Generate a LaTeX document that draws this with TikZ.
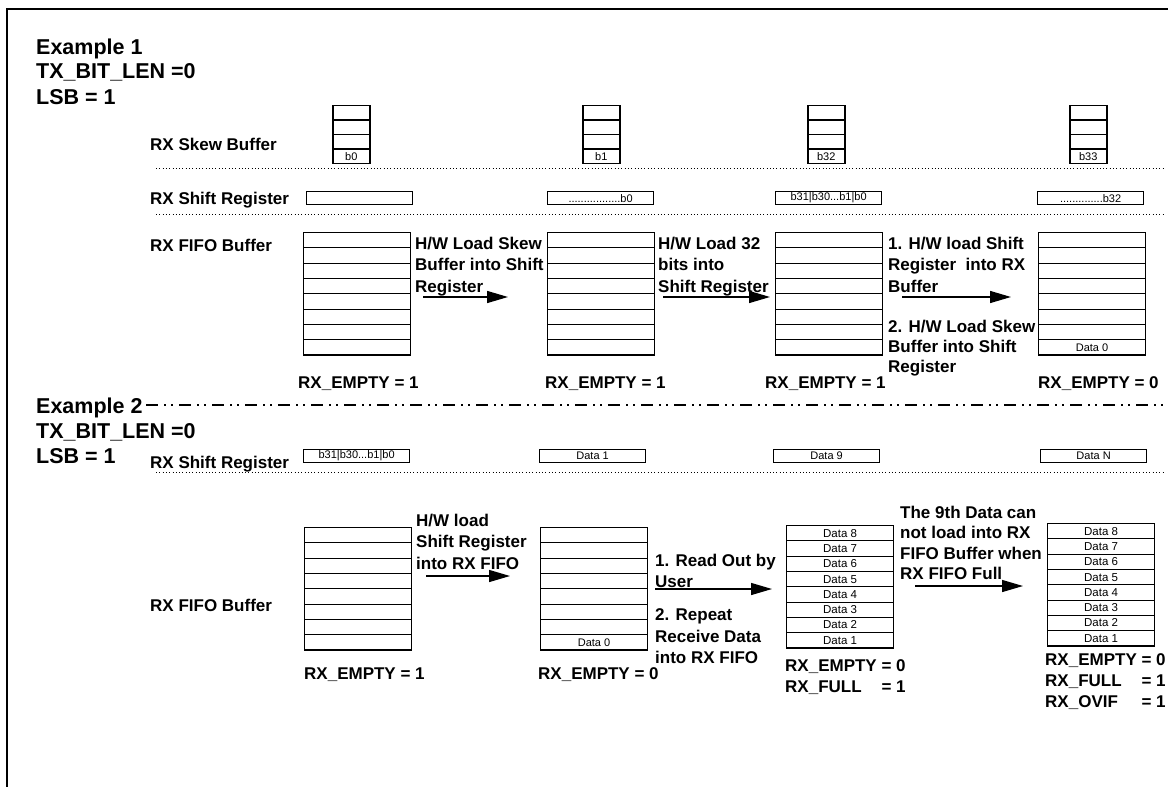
\documentclass[tikz,border=0pt]{standalone}
\usepackage{fontspec}
\setmainfont{Liberation Sans}
\usetikzlibrary{arrows.meta}
\begin{document}
\begin{tikzpicture}[x=1pt,y=-1pt,
  hdr/.style={font=\fontsize{21.5}{25}\selectfont\bfseries, inner sep=0pt, anchor=west, text height=15.4pt, text depth=0pt},
  lbl/.style={font=\fontsize{17}{21}\selectfont\bfseries, inner sep=0pt, anchor=west, text height=12.2pt, text depth=0pt},
  note/.style={font=\fontsize{17}{21.5}\selectfont\bfseries, inner sep=0pt, anchor=north west, align=left},
  stat/.style={font=\fontsize{17}{21}\selectfont\bfseries, inner sep=0pt, anchor=north west},
  cell/.style={draw, line width=1.1pt, minimum width=107pt, minimum height=15.3pt, inner sep=0pt, anchor=north west, font=\fontsize{11.5}{12}\selectfont},
  skew/.style={draw, line width=1.5pt, minimum width=37pt, minimum height=14.6pt, inner sep=0pt, anchor=north west, font=\fontsize{11}{12}\selectfont},
  sreg/.style={draw, line width=1.2pt, minimum width=106pt, minimum height=13pt, inner sep=0pt, anchor=north west, font=\fontsize{11}{12}\selectfont},
  dotline/.style={line width=0.9pt, dash pattern=on 0.9pt off 2.4pt},
  sepline/.style={line width=1.2pt, dash pattern=on 12pt off 6pt on 2pt off 5pt on 2pt off 6pt},
  conn/.style={line width=1.4pt, -{Triangle[length=21pt,width=12pt]}},
]
\useasboundingbox (0,0) rectangle (1168,787);
\fill[white] (0,0) rectangle (1168,787);
\draw[line width=2.2pt] (7,787) -- (7,9) -- (1168,9);

% ---------- Example 1 ----------
\node[hdr] (e1) at (36,47) {Example 1};
\node[hdr] (e1t) at (36,71) {TX\_BIT\_LEN =0};
\node[hdr] (e1l) at (36,97) {LSB = 1};

\node[lbl] (skl) at (150,144) {RX Skew Buffer};
\node[lbl] (sr1l) at (150,198) {RX Shift Register};
\node[lbl] (ff1l) at (150,245) {RX FIFO Buffer};

\foreach \n/\x/\lab in {S1/332/b0, S2/582/b1, S3/807/b32, S4/1069/b33} {
  \foreach \i in {1,2,3} \node[skew] (\n r\i) at (\x,{104.5+(\i-1)*14.6}) {};
  \node[skew] (\n r4) at (\x,148.3) {\lab};
}

\coordinate (d1a) at (156,168); \coordinate (d1b) at (1163,168);
\draw[dotline] (d1a) -- (d1b);

\node[sreg] (R1) at (306,191) {};
\node[sreg] (R2) at (547,191) {.................b0};
\node[sreg] (R3) at (775,191) {b31|b30...b1|b0};
\node[sreg] (R4) at (1037,191) {..............b32};

\coordinate (d2a) at (156,214); \coordinate (d2b) at (1163,214);
\draw[dotline] (d2a) -- (d2b);

\foreach \n/\x in {F1/303, F2/547, F3/775, F4/1038} {
  \foreach \i in {1,...,7} \node[cell] (\n r\i) at (\x,{232+(\i-1)*15.3}) {};
}
\node[cell] (F1r8) at (303,339.1) {};
\node[cell] (F2r8) at (547,339.1) {};
\node[cell] (F3r8) at (775,339.1) {};
\node[cell, font=\fontsize{11}{12}\selectfont] (F4r8) at (1038,339.1) {Data 0};

\node[note] (n1) at (415,236.7) {H/W Load Skew\\Buffer into Shift\\Register};
\node[note] (n2) at (658,236.7) {H/W Load 32\\bits into\\Shift Register};
\node[note] (n3) at (888,236.7) {1. H/W load Shift\\Register\ \ into RX\\Buffer};
\node[note, font=\fontsize{17}{20}\selectfont\bfseries] (n4) at (888,319.7) {2. H/W Load Skew\\Buffer into Shift\\Register};

\coordinate (a1s) at (423,297); \coordinate (a1e) at (508,297);
\coordinate (a2s) at (663,297); \coordinate (a2e) at (770,297);
\coordinate (a3s) at (902,297); \coordinate (a3e) at (1011,297);
\draw[conn] (a1s) -- (a1e);
\draw[conn] (a2s) -- (a2e);
\draw[conn] (a3s) -- (a3e);

\node[lbl] (m1) at (298,382) {RX\_EMPTY = 1};
\node[lbl] (m2) at (545,382) {RX\_EMPTY = 1};
\node[lbl] (m3) at (765,382) {RX\_EMPTY = 1};
\node[lbl] (m4) at (1038,382) {RX\_EMPTY = 0};

% ---------- separator ----------
\coordinate (sepa) at (146,405); \coordinate (sepb) at (1165,405);
\draw[sepline] (sepa) -- (sepb);

% ---------- Example 2 ----------
\node[hdr] (e2) at (36,406) {Example 2};
\node[hdr] (e2t) at (36,431) {TX\_BIT\_LEN =0};
\node[hdr] (e2l) at (36,456) {LSB = 1};

\node[lbl] (sr2l) at (150,462) {RX Shift Register};
\node[lbl] (ff2l) at (150,605) {RX FIFO Buffer};

\node[sreg] (Q1) at (303,449) {b31|b30...b1|b0};
\node[sreg] (Q2) at (539,449) {Data 1};
\node[sreg] (Q3) at (773,449) {Data 9};
\node[sreg] (Q4) at (1040,449) {Data N};

\coordinate (d3a) at (156,472); \coordinate (d3b) at (1163,472);
\draw[dotline] (d3a) -- (d3b);

\foreach \i in {1,...,8} \node[cell] (G1r\i) at (304,{527+(\i-1)*15.3}) {};
\foreach \i in {1,...,7} \node[cell] (G2r\i) at (540,{527+(\i-1)*15.3}) {};
\node[cell, font=\fontsize{11}{12}\selectfont] (G2r8) at (540,634.1) {Data 0};
\foreach \i/\lab in {1/8,2/7,3/6,4/5,5/4,6/3,7/2,8/1} {
  \node[cell] (G3r\i) at (786,{525+(\i-1)*15.3}) {Data \lab};
  \node[cell] (G4r\i) at (1047,{523+(\i-1)*15.3}) {Data \lab};
}

\node[note] (n5) at (416,513.7) {H/W load\\Shift Register\\into RX FIFO};
\node[note] (n6) at (655,553.7) {1. Read Out by\\User};
\node[note] (n7) at (655,608.7) {2. Repeat\\Receive Data\\into RX FIFO};
\node[note, font=\fontsize{17}{20.5}\selectfont\bfseries] (n8) at (900,505.7) {The 9th Data can\\not load into RX\\FIFO Buffer when\\RX FIFO Full};

\coordinate (a4s) at (426,576); \coordinate (a4e) at (510,576);
\coordinate (a5s) at (655,589); \coordinate (a5e) at (772,589);
\coordinate (a6s) at (915,586); \coordinate (a6e) at (1023,586);
\draw[conn] (a4s) -- (a4e);
\draw[conn] (a5s) -- (a5e);
\draw[conn] (a6s) -- (a6e);

\node[lbl] (m5) at (304,673) {RX\_EMPTY = 1};
\node[lbl] (m6) at (538,673) {RX\_EMPTY = 0};
\node[stat] (m7) at (785,656.4) {\begin{tabular}{@{}l@{ }l@{}}RX\_EMPTY & = 0\\ RX\_FULL & = 1\end{tabular}};
\node[stat] (m8) at (1045,650.4) {\begin{tabular}{@{}l@{ }l@{}}RX\_EMPTY & = 0\\ RX\_FULL & = 1\\ RX\_OVIF & = 1\end{tabular}};
\end{tikzpicture}
\end{document}
